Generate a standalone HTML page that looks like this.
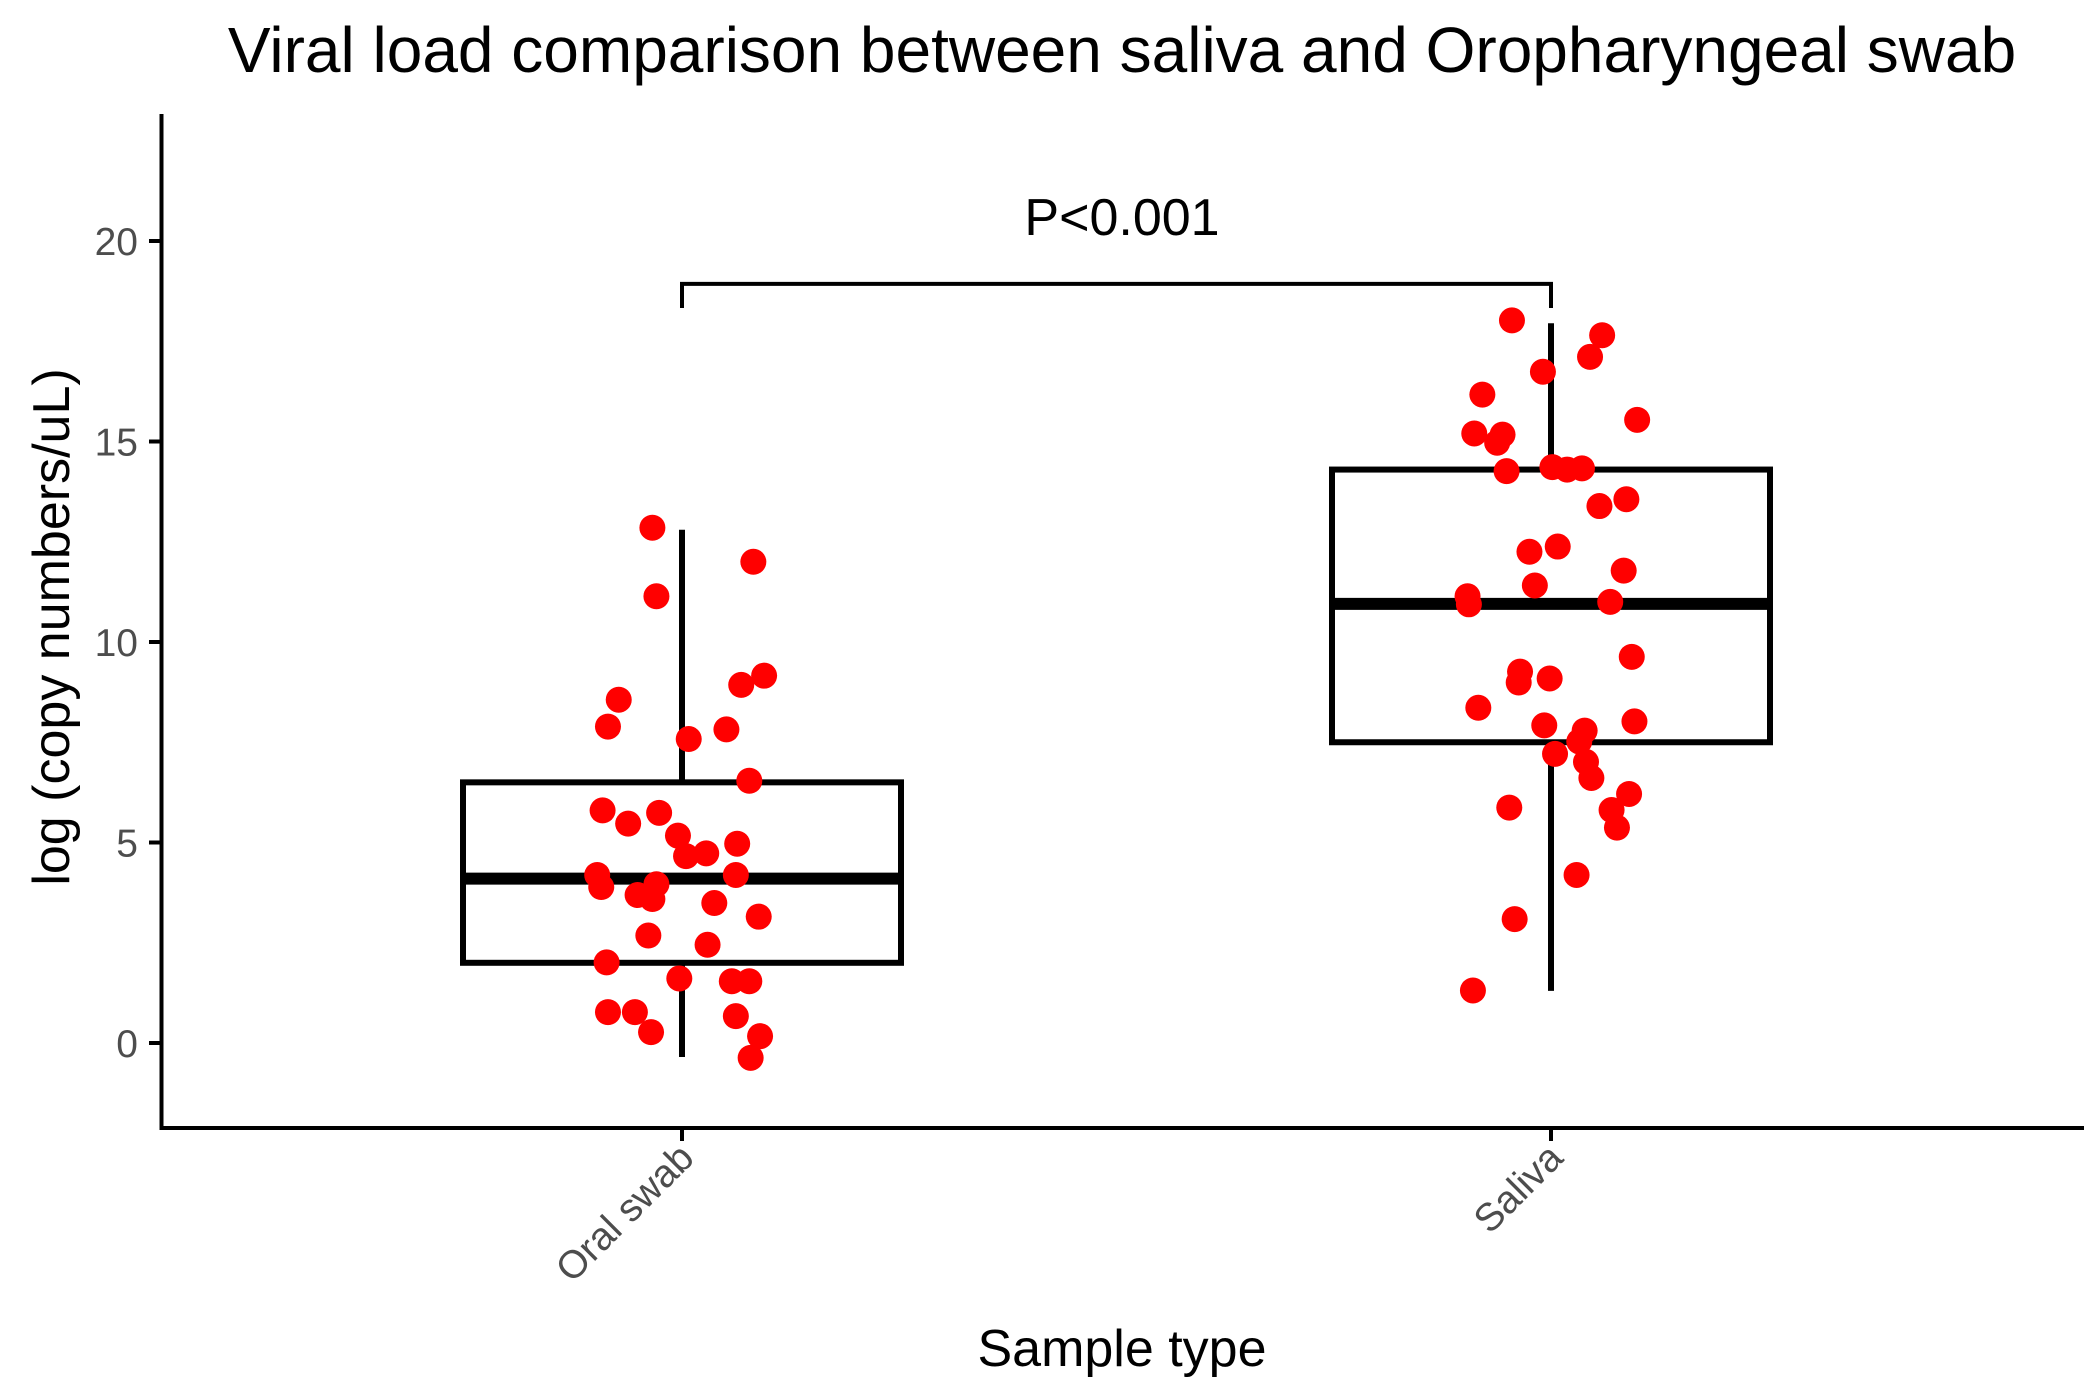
<!DOCTYPE html>
<html><head><meta charset="utf-8"><style>
html,body{margin:0;padding:0;background:#fff;}
svg{display:block;font-family:"Liberation Sans",Arial,sans-serif;}
</style></head><body>
<svg id="chart" width="2100" height="1400" viewBox="0 0 2100 1400" xmlns="http://www.w3.org/2000/svg"></svg>
<script>
const categories = ["Oral swab", "Saliva"];
const yTicks = [0, 5, 10, 15, 20];
const boxQ1 = [2.0, 7.5];
const boxMedian = [4.1, 10.95];
const boxQ3 = [6.5, 14.3];
const whiskerLow = [-0.35, 1.3];
const whiskerHigh = [12.8, 17.95];
const oralValues = [12.85,11.14,12.0,9.16,8.93,8.56,7.89,7.58,7.82,6.54,5.8,5.47,5.74,5.17,4.97,4.66,4.73,4.19,4.19,3.89,3.96,3.69,3.59,3.49,3.15,2.68,2.45,2.01,1.61,1.54,1.54,0.77,0.77,0.67,0.17,0.27,-0.37];
const oralJitter = [-22,-19,53,61,44,-47,-55,5,33,50,-59,-40,-17,-3,41,3,18,-63,40,-60,-19,-33,-22,24,57,-25,19,-56,-2,37,50,-55,-35,40,58,-23,51];
const salivaValues = [18.02,17.65,17.11,16.74,16.17,15.54,15.2,15.17,14.97,14.26,14.36,14.3,14.33,13.56,13.39,12.38,12.25,11.78,11.41,11.14,10.94,11.0,9.63,9.26,8.99,9.09,8.36,8.02,7.92,7.79,7.52,7.21,7.01,6.61,6.21,5.81,5.87,5.37,4.19,3.09,1.31];
const salivaJitter = [-29,38,29,-6,-51,64,-57,-36,-40,-33,1,12,23,56,36,5,-16,54,-12,-62,-61,44,60,-23,-24,-1,-54,62,-5,25,21,3,26,30,58,45,-31,49,19,-27,-58];
const pLabel = "P<0.001";
const bracketY = 18.93;

const svg = document.getElementById('chart');
const NS = "http://www.w3.org/2000/svg";
const S = 1.346;
const xPos = i => [682, 1551][i];
const y = v => 1043 - v * 40.1;
function mk(tag, attrs, parent) {
  const e = document.createElementNS(NS, tag);
  for (const k in attrs) e.setAttribute(k, attrs[k]);
  (parent || svg).appendChild(e);
  return e;
}
let t = mk('text', {x:1122, y:72, 'font-size':64, 'text-anchor':'middle', fill:'#000'});


t.textContent = "Viral load comparison between saliva and Oropharyngeal swab";
let ax = mk('line', {x1:161.5, y1:114, x2:161.5, y2:1130, stroke:'#000', 'stroke-width':4});


let axx = mk('line', {x1:160, y1:1128, x2:2084, y2:1128, stroke:'#000', 'stroke-width':4});


yTicks.forEach(v => {
  const tk = mk('line', {x1:149, y1:y(v), x2:161.5, y2:y(v), stroke:'#000', 'stroke-width':4});
  
  
  const lb = mk('text', {x:138, y:y(v)+14, 'font-size':39, 'text-anchor':'end', fill:'#4d4d4d'});
  
  
  lb.textContent = v;
});
categories.forEach((c, i) => {
  const tk = mk('line', {x1:xPos(i), y1:1128, x2:xPos(i), y2:1141, stroke:'#000', 'stroke-width':4});
  
  
  const lb = mk('text', {x:xPos(i)+14, y:1160, 'font-size':39, 'text-anchor':'end', fill:'#4d4d4d', transform:`rotate(-45 ${xPos(i)+14} 1160)`});
  
  
  lb.textContent = c;
});
let xt = mk('text', {x:1122, y:1366, 'font-size':52, 'text-anchor':'middle', fill:'#000'});


xt.textContent = "Sample type";
let yt = mk('text', {x:0, y:0, 'font-size':52, 'text-anchor':'middle', fill:'#000', transform:'translate(69 627) rotate(-90)'});


yt.textContent = "log (copy numbers/uL)";
const hw = 219;
categories.forEach((c, i) => {
  const g = mk('g', {});
  
  
  mk('line', {x1:xPos(i), y1:y(whiskerHigh[i]), x2:xPos(i), y2:y(boxQ3[i]), stroke:'#000', 'stroke-width':6}, g);
  mk('line', {x1:xPos(i), y1:y(boxQ1[i]), x2:xPos(i), y2:y(whiskerLow[i]), stroke:'#000', 'stroke-width':6}, g);
  mk('rect', {x:xPos(i)-hw, y:y(boxQ3[i]), width:2*hw, height:y(boxQ1[i])-y(boxQ3[i]), fill:'none', stroke:'#000', 'stroke-width':6}, g);
  mk('line', {x1:xPos(i)-hw, y1:y(boxMedian[i]), x2:xPos(i)+hw, y2:y(boxMedian[i]), stroke:'#000', 'stroke-width':12}, g);
});
[[oralValues, oralJitter, 0], [salivaValues, salivaJitter, 1]].forEach(([vals, jit, i]) => {
  vals.forEach((v, k) => {
    const p = mk('circle', {cx:xPos(i) + jit[k]*S, cy:y(v), r:13, fill:'#ff0000'});
    
    
  });
});
let br = mk('path', {d:`M${xPos(0)} ${y(bracketY-0.6)} V${y(bracketY)} H${xPos(1)} V${y(bracketY-0.6)}`, fill:'none', stroke:'#000', 'stroke-width':4});


let pl = mk('text', {x:1122, y:235, 'font-size':52, 'text-anchor':'middle', fill:'#000'});


pl.textContent = pLabel;
</script>
</body></html>
